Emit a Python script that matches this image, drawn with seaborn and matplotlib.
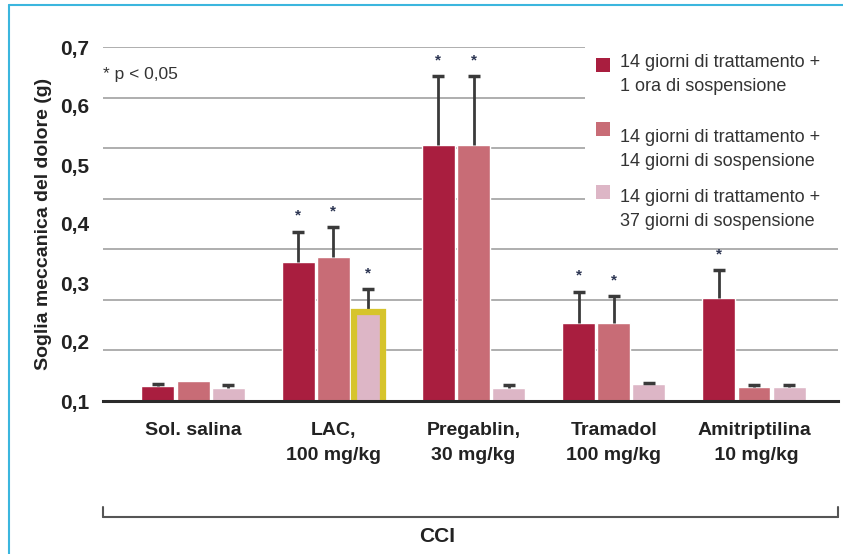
import numpy as np
import pandas as pd
import matplotlib
matplotlib.use("Agg")
import matplotlib.pyplot as plt
from matplotlib.patches import Rectangle
from matplotlib.lines import Line2D
import seaborn as sns

# ---- data ----
categories = ["Sol. salina", "LAC,\n100 mg/kg", "Pregablin,\n30 mg/kg",
              "Tramadol\n100 mg/kg", "Amitriptilina\n 10 mg/kg"]
series = ["14 giorni di trattamento +\n1 ora di sospensione",
          "14 giorni di trattamento +\n14 giorni di sospensione",
          "14 giorni di trattamento +\n37 giorni di sospensione"]
values_s1 = [0.125, 0.336, 0.534, 0.232, 0.275]
values_s2 = [0.134, 0.344, 0.534, 0.232, 0.124]
values_s3 = [0.122, 0.256, 0.122, 0.129, 0.124]
err_s1 = [0.004, 0.051, 0.117, 0.053, 0.047]
err_s2 = [0.000, 0.051, 0.117, 0.046, 0.003]
err_s3 = [0.005, 0.034, 0.005, 0.002, 0.003]
signif_s1 = [False, True, True, True, True]
signif_s2 = [False, True, True, True, False]
signif_s3 = [False, True, False, False, False]
yticks = [0.1, 0.2, 0.3, 0.4, 0.5, 0.6, 0.7]
ytick_labels = ["0,1", "0,2", "0,3", "0,4", "0,5", "0,6", "0,7"]
colors = ["#A91E3F", "#C86C76", "#DDB6C6"]

rows = []
for s, vals in zip(series, [values_s1, values_s2, values_s3]):
    for c, v in zip(categories, vals):
        rows.append({"cat": c, "series": s, "value": v})
df = pd.DataFrame(rows)

sns.set_theme(style="white")
plt.rcParams["font.family"] = ["Liberation Sans", "DejaVu Sans"]

W, H = 843, 554
fig = plt.figure(figsize=(W / 100, H / 100), dpi=100)
ax = fig.add_axes([103 / W, 1 - 401 / H, (838 - 103) / W, (401 - 47) / H])

sns.barplot(data=df, x="cat", y="value", hue="series", palette=colors,
            width=0.75, gap=0.06, errorbar=None, ax=ax, legend=False,
            saturation=1, zorder=3)

ax.set_ylim(0.1, 0.7)
ax.set_xlim(-0.642, 4.599)
ax.set_yticks(yticks)
ax.set_yticklabels(ytick_labels)
ax.yaxis.remove_overlapping_locs = False
ax.set_yticks(np.linspace(0.1, 0.7, 8), minor=True)
ax.yaxis.grid(True, which="minor", color="#a8a8a8", linewidth=1.3, zorder=0)
ax.yaxis.grid(False, which="major")
ax.set_axisbelow(True)
for s in ["top", "right", "left"]:
    ax.spines[s].set_visible(False)
ax.spines["bottom"].set_color("#2b2b2b")
ax.spines["bottom"].set_linewidth(2.2)
ax.spines["bottom"].set_zorder(5)
ax.tick_params(axis="both", which="both", length=0)
ax.tick_params(axis="y", pad=10, labelsize=15, labelcolor="#222222")
ax.tick_params(axis="x", pad=15, labelsize=14, labelcolor="#222222")
for lbl in ax.get_yticklabels() + ax.get_xticklabels():
    lbl.set_fontweight("bold")
for lbl in ax.get_xticklabels():
    lbl.set_linespacing(1.6)
ax.set_xlabel("")
ax.set_ylabel("Soglia meccanica del dolore (g)", fontsize=14, fontweight="bold",
              color="#222222", labelpad=6)

# error bars + stars
patches = [p for p in ax.patches if isinstance(p, Rectangle)]
all_vals = [values_s1, values_s2, values_s3]
all_err = [err_s1, err_s2, err_s3]
all_sig = [signif_s1, signif_s2, signif_s3]
k = 0
for si in range(3):
    for ci in range(len(categories)):
        p = patches[k]
        k += 1
        xc = p.get_x() + p.get_width() / 2
        v = all_vals[si][ci]
        e = all_err[si][ci]
        if e > 0:
            _, caps, _ = ax.errorbar([xc], [v], yerr=[[0], [e]], fmt="none",
                                     ecolor="#3a3a3a", elinewidth=2, capsize=4,
                                     capthick=2.5, zorder=4)
            caps[0].set_visible(False)
        if all_sig[si][ci]:
            ax.text(xc, v + e + 0.027, "*", ha="center", va="center",
                    fontsize=11, color="#2c3552", fontweight="bold", zorder=6)
        if si == 2 and ci == 1:
            ax.add_patch(Rectangle((p.get_x() + 0.012, 0.0), p.get_width() - 0.024,
                                   v - 0.005, fill=False, edgecolor="#D6C42C",
                                   linewidth=4.5, zorder=4, clip_on=True))

ax.text(0.0, 0.653, "* p < 0,05", transform=ax.get_yaxis_transform(),
        fontsize=12.5, color="#333333", va="center", ha="left")

# white area behind the legend
ax.add_patch(Rectangle((0.656, 0.455), 0.4, 0.6, transform=ax.transAxes,
                       facecolor="white", edgecolor="none", zorder=1, clip_on=False))

# legend
leg_y = [65, 129, 192]
for s, c, yy in zip(series, colors, leg_y):
    fig.add_artist(Rectangle((596 / W, 1 - (yy + 7) / H), 14 / W, 14 / H,
                             transform=fig.transFigure, facecolor=c, edgecolor="none"))
for s, yy in zip(series, [62, 137, 197]):
    fig.text(620 / W, 1 - (yy - 8) / H, s, fontsize=13, color="#333333",
             va="top", ha="left", linespacing=1.5)

# bracket
bc = "#555555"
fig.add_artist(Line2D([103 / W, 838 / W], [1 - 517 / H, 1 - 517 / H],
                      color=bc, linewidth=1.5, transform=fig.transFigure))
for xx in [103, 838]:
    fig.add_artist(Line2D([xx / W, xx / W], [1 - 517 / H, 1 - 507 / H],
                          color=bc, linewidth=1.5, transform=fig.transFigure))
fig.text(437 / W, 1 - 537 / H, "CCI", fontsize=15, fontweight="bold",
         color="#222222", ha="center", va="center")

# cyan frame
fig.add_artist(Line2D([9 / W, 1.0], [1 - 5 / H, 1 - 5 / H], color="#3BB6DE",
                      linewidth=1.5, transform=fig.transFigure))
fig.add_artist(Line2D([9 / W, 9 / W], [0, 1 - 5 / H], color="#3BB6DE",
                      linewidth=1.5, transform=fig.transFigure))

fig.savefig("out.png", dpi=100)
